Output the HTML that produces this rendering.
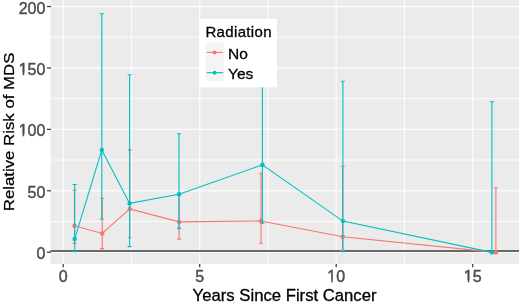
<!DOCTYPE html>
<html><head><meta charset="utf-8"><style>
html,body{margin:0;padding:0;background:#fff;}
body{width:520px;height:302px;overflow:hidden;font-family:"Liberation Sans",sans-serif;}
svg{display:block;filter:blur(0.3px);}
</style></head><body>
<svg width="520" height="302" viewBox="0 0 520 302">
<rect x="50.5" y="0" width="468.5" height="264" fill="#EBEBEB"/>
<line x1="50.5" x2="519" y1="221.49" y2="221.49" stroke="#FCFCFC" stroke-width="1.0"/>
<line x1="50.5" x2="519" y1="160.07" y2="160.07" stroke="#FCFCFC" stroke-width="1.0"/>
<line x1="50.5" x2="519" y1="98.65" y2="98.65" stroke="#FCFCFC" stroke-width="1.0"/>
<line x1="50.5" x2="519" y1="37.23" y2="37.23" stroke="#FCFCFC" stroke-width="1.0"/>
<line y1="0" y2="264" x1="131.45" x2="131.45" stroke="#FCFCFC" stroke-width="1.0"/>
<line y1="0" y2="264" x1="267.95" x2="267.95" stroke="#FCFCFC" stroke-width="1.0"/>
<line y1="0" y2="264" x1="404.45" x2="404.45" stroke="#FCFCFC" stroke-width="1.0"/>
<line x1="50.5" x2="519" y1="252.20" y2="252.20" stroke="#FAFAFA" stroke-width="1.4"/>
<line x1="50.5" x2="519" y1="190.78" y2="190.78" stroke="#FAFAFA" stroke-width="1.4"/>
<line x1="50.5" x2="519" y1="129.36" y2="129.36" stroke="#FAFAFA" stroke-width="1.4"/>
<line x1="50.5" x2="519" y1="67.94" y2="67.94" stroke="#FAFAFA" stroke-width="1.4"/>
<line x1="50.5" x2="519" y1="6.52" y2="6.52" stroke="#FAFAFA" stroke-width="1.4"/>
<line y1="0" y2="264" x1="63.20" x2="63.20" stroke="#FAFAFA" stroke-width="1.4"/>
<line y1="0" y2="264" x1="199.70" x2="199.70" stroke="#FAFAFA" stroke-width="1.4"/>
<line y1="0" y2="264" x1="336.20" x2="336.20" stroke="#FAFAFA" stroke-width="1.4"/>
<line y1="0" y2="264" x1="472.70" x2="472.70" stroke="#FAFAFA" stroke-width="1.4"/>
<line x1="50.5" x2="519" y1="250.97" y2="250.97" stroke="#3c3c3c" stroke-width="1.6"/>
<path d="M72.50,190.30H76.50M74.50,190.30V243.20M72.50,243.20H76.50" stroke="#F8766D" stroke-width="1.1" fill="none"/>
<path d="M100.20,198.30H104.20M102.20,198.30V248.60M100.20,248.60H104.20" stroke="#F8766D" stroke-width="1.1" fill="none"/>
<path d="M127.80,149.90H131.80M129.80,149.90V237.80M127.80,237.80H131.80" stroke="#F8766D" stroke-width="1.1" fill="none"/>
<path d="M177.10,195.40H181.10M179.10,195.40V239.10M177.10,239.10H181.10" stroke="#F8766D" stroke-width="1.1" fill="none"/>
<path d="M259.00,173.30H263.00M261.00,173.30V243.20M259.00,243.20H263.00" stroke="#F8766D" stroke-width="1.1" fill="none"/>
<path d="M340.70,166.30H344.70M342.70,166.30V250.90M340.70,250.90H344.70" stroke="#F8766D" stroke-width="1.1" fill="none"/>
<path d="M493.90,187.80H497.90M495.90,187.80V253.00M493.90,253.00H497.90" stroke="#F8766D" stroke-width="1.1" fill="none"/>
<polyline points="74.50,225.70 102.20,233.50 129.80,208.90 179.10,221.90 261.00,221.00 342.70,236.70 495.90,252.40" stroke="#F8766D" stroke-width="1.1" fill="none"/>
<circle cx="74.50" cy="225.70" r="2.2" fill="#F8766D"/>
<circle cx="102.20" cy="233.50" r="2.2" fill="#F8766D"/>
<circle cx="129.80" cy="208.90" r="2.2" fill="#F8766D"/>
<circle cx="179.10" cy="221.90" r="2.2" fill="#F8766D"/>
<circle cx="261.00" cy="221.00" r="2.2" fill="#F8766D"/>
<circle cx="342.70" cy="236.70" r="2.2" fill="#F8766D"/>
<circle cx="495.90" cy="252.40" r="2.2" fill="#F8766D"/>
<path d="M72.70,184.50H76.70M74.70,184.50V251.60M72.70,251.60H76.70" stroke="#00BFC4" stroke-width="1.1" fill="none"/>
<path d="M99.80,13.70H103.80M101.80,13.70V219.00M99.80,219.00H103.80" stroke="#00BFC4" stroke-width="1.1" fill="none"/>
<path d="M127.60,74.80H131.60M129.60,74.80V246.60M127.60,246.60H131.60" stroke="#00BFC4" stroke-width="1.1" fill="none"/>
<path d="M177.00,133.70H181.00M179.00,133.70V228.40M177.00,228.40H181.00" stroke="#00BFC4" stroke-width="1.1" fill="none"/>
<path d="M260.40,40.40H264.40M262.40,40.40V223.10M260.40,223.10H264.40" stroke="#00BFC4" stroke-width="1.1" fill="none"/>
<path d="M340.90,81.20H344.90M342.90,81.20V251.80M340.90,251.80H344.90" stroke="#00BFC4" stroke-width="1.1" fill="none"/>
<path d="M489.90,101.80H493.90M491.90,101.80V253.00M489.90,253.00H493.90" stroke="#00BFC4" stroke-width="1.1" fill="none"/>
<polyline points="74.70,238.90 101.80,149.90 129.60,203.40 179.00,194.30 262.40,164.80 342.90,221.10 491.90,252.40" stroke="#00BFC4" stroke-width="1.1" fill="none"/>
<circle cx="74.70" cy="238.90" r="2.2" fill="#00BFC4"/>
<circle cx="101.80" cy="149.90" r="2.2" fill="#00BFC4"/>
<circle cx="129.60" cy="203.40" r="2.2" fill="#00BFC4"/>
<circle cx="179.00" cy="194.30" r="2.2" fill="#00BFC4"/>
<circle cx="262.40" cy="164.80" r="2.2" fill="#00BFC4"/>
<circle cx="342.90" cy="221.10" r="2.2" fill="#00BFC4"/>
<circle cx="491.90" cy="252.40" r="2.2" fill="#00BFC4"/>
<rect x="199.6" y="18.9" width="77.4" height="68.4" fill="#fff"/>
<rect x="205.7" y="42.3" width="18.2" height="38.9" fill="#F4F4F4"/>
<line x1="206.6" x2="223.2" y1="52.4" y2="52.4" stroke="#F8766D" stroke-width="1.1"/>
<circle cx="214.6" cy="52.4" r="2.0" fill="#F8766D"/>
<line x1="206.6" x2="223.2" y1="72.7" y2="72.7" stroke="#00BFC4" stroke-width="1.1"/>
<circle cx="214.6" cy="72.7" r="2.0" fill="#00BFC4"/>
<text x="205.4" y="36.9" font-family="'Liberation Sans', sans-serif" font-size="15" letter-spacing="0.35" fill="#000" stroke="#000" stroke-width="0.3">Radiation</text>
<text x="228.0" y="58.8" font-family="'Liberation Sans', sans-serif" font-size="15.5" fill="#000" stroke="#000" stroke-width="0.3">No</text>
<text x="228.0" y="79.2" font-family="'Liberation Sans', sans-serif" font-size="15.5" fill="#000" stroke="#000" stroke-width="0.3">Yes</text>
<line x1="47" x2="51" y1="252.20" y2="252.20" stroke="#333" stroke-width="1.2"/>
<g transform="translate(0,253.70) scale(1,1.0) translate(0,-253.70)">
<text x="45.4" y="259.30" font-family="'Liberation Sans', sans-serif" font-size="16" fill="#4D4D4D" stroke="#4D4D4D" stroke-width="0.45" text-anchor="end">0</text>
</g>
<line x1="47" x2="51" y1="190.78" y2="190.78" stroke="#333" stroke-width="1.2"/>
<g transform="translate(0,192.28) scale(1,1.0) translate(0,-192.28)">
<text x="45.4" y="197.88" font-family="'Liberation Sans', sans-serif" font-size="16" fill="#4D4D4D" stroke="#4D4D4D" stroke-width="0.45" text-anchor="end">50</text>
</g>
<line x1="47" x2="51" y1="129.36" y2="129.36" stroke="#333" stroke-width="1.2"/>
<g transform="translate(0,130.86) scale(1,1.0) translate(0,-130.86)">
<text x="45.4" y="136.46" font-family="'Liberation Sans', sans-serif" font-size="16" fill="#4D4D4D" stroke="#4D4D4D" stroke-width="0.45" text-anchor="end">100</text>
<rect x="18.99" y="134.06" width="3.66" height="3.4" fill="#fff"/>
<rect x="24.22" y="134.06" width="3.58" height="3.4" fill="#fff"/>
</g>
<line x1="47" x2="51" y1="67.94" y2="67.94" stroke="#333" stroke-width="1.2"/>
<g transform="translate(0,69.44) scale(1,1.0) translate(0,-69.44)">
<text x="45.4" y="75.04" font-family="'Liberation Sans', sans-serif" font-size="16" fill="#4D4D4D" stroke="#4D4D4D" stroke-width="0.45" text-anchor="end">150</text>
<rect x="18.99" y="72.64" width="3.66" height="3.4" fill="#fff"/>
<rect x="24.22" y="72.64" width="3.58" height="3.4" fill="#fff"/>
</g>
<line x1="47" x2="51" y1="6.52" y2="6.52" stroke="#333" stroke-width="1.2"/>
<g transform="translate(0,8.02) scale(1,1.0) translate(0,-8.02)">
<text x="45.4" y="13.62" font-family="'Liberation Sans', sans-serif" font-size="16" fill="#4D4D4D" stroke="#4D4D4D" stroke-width="0.45" text-anchor="end">200</text>
</g>
<line y1="264" y2="267.3" x1="63.20" x2="63.20" stroke="#333" stroke-width="1.2"/>
<g transform="translate(0,276.70) scale(1,1.0) translate(0,-276.70)">
<text x="63.20" y="282.3" font-family="'Liberation Sans', sans-serif" font-size="16" fill="#4D4D4D" stroke="#4D4D4D" stroke-width="0.45" text-anchor="middle">0</text>
</g>
<line y1="264" y2="267.3" x1="199.70" x2="199.70" stroke="#333" stroke-width="1.2"/>
<g transform="translate(0,276.70) scale(1,1.0) translate(0,-276.70)">
<text x="199.70" y="282.3" font-family="'Liberation Sans', sans-serif" font-size="16" fill="#4D4D4D" stroke="#4D4D4D" stroke-width="0.45" text-anchor="middle">5</text>
</g>
<line y1="264" y2="267.3" x1="336.20" x2="336.20" stroke="#333" stroke-width="1.2"/>
<g transform="translate(0,276.70) scale(1,1.0) translate(0,-276.70)">
<text x="336.20" y="282.3" font-family="'Liberation Sans', sans-serif" font-size="16" fill="#4D4D4D" stroke="#4D4D4D" stroke-width="0.45" text-anchor="middle">10</text>
<rect x="327.58" y="279.90" width="3.66" height="3.4" fill="#fff"/>
<rect x="332.82" y="279.90" width="3.58" height="3.4" fill="#fff"/>
</g>
<line y1="264" y2="267.3" x1="472.70" x2="472.70" stroke="#333" stroke-width="1.2"/>
<g transform="translate(0,276.70) scale(1,1.0) translate(0,-276.70)">
<text x="472.70" y="282.3" font-family="'Liberation Sans', sans-serif" font-size="16" fill="#4D4D4D" stroke="#4D4D4D" stroke-width="0.45" text-anchor="middle">15</text>
<rect x="464.08" y="279.90" width="3.66" height="3.4" fill="#fff"/>
<rect x="469.32" y="279.90" width="3.58" height="3.4" fill="#fff"/>
</g>
<text x="284.6" y="300.6" font-family="'Liberation Sans', sans-serif" font-size="16.7" fill="#000" stroke="#000" stroke-width="0.3" text-anchor="middle">Years Since First Cancer</text>
<text transform="translate(13.7,131.9) rotate(-90) scale(1,0.86)" x="0" y="0" font-family="'Liberation Sans', sans-serif" font-size="16.8" fill="#000" stroke="#000" stroke-width="0.3" text-anchor="middle">Relative Risk of MDS</text>
</svg>
</body></html>
